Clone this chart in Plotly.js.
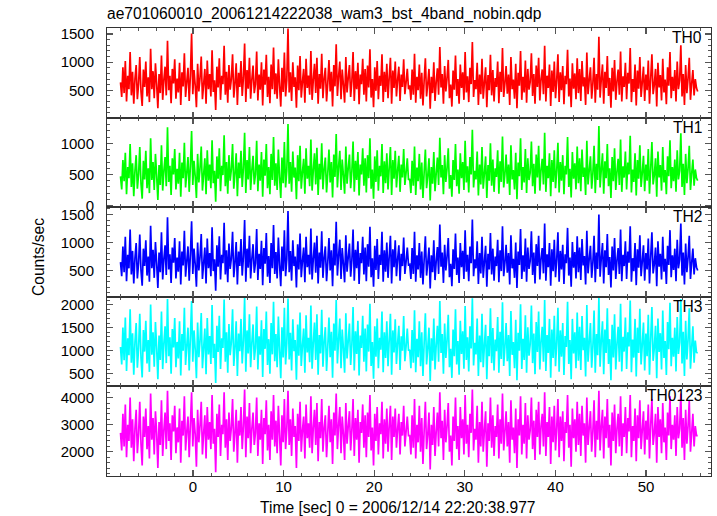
<!DOCTYPE html>
<html>
<head>
<meta charset="utf-8">
<script src="https://cdn.plot.ly/plotly-3.0.1.min.js"></script>
<style>html,body{margin:0;padding:0;background:#fff;}#chart{width:717px;height:516px;}</style>
</head>
<body>
<div id="chart"></div>
<script>
// ---- data ----
const chartTitle = "ae701060010_20061214222038_wam3_bst_4band_nobin.qdp";
const panelLabels = ["TH0", "TH1", "TH2", "TH3", "TH0123"];
const tStart = -8.0;     // first bin time [sec]
const binSec = 0.13299;  // bin width [sec]

const th0 = [
640,380,910,450,1020,300,760,520,1180,410,830,260,700,950,340,610,1090,480,220,870,
560,1010,390,730,290,1240,520,840,360,980,610,180,790,450,1120,330,690,920,410,1380,
500,760,270,880,620,1050,350,710,460,990,240,820,570,1160,380,650,900,310,760,1510,
430,860,590,200,970,480,720,1100,340,610,880,260,1030,520,790,390,1210,470,680,150,
920,550,1070,330,760,610,1290,420,830,280,950,510,700,1140,370,620,980,240,810,560,
1020,400,720,1330,290,860,530,1080,350,690,940,450,610,1190,320,780,510,1000,230,870,
600,1130,380,740,270,960,520,1260,430,800,350,1050,580,210,900,470,1170,390,680,1600,
460,820,310,1000,560,730,190,940,500,1110,370,650,880,280,1060,540,760,420,1200,330,
690,970,450,1080,260,790,530,1150,360,710,900,300,620,1040,480,830,210,950,570,1320,
400,750,1010,340,870,590,280,1090,460,720,950,380,660,1180,310,840,520,990,250,780,
610,1060,420,880,300,940,550,1230,370,700,200,910,490,1020,340,760,580,1140,290,830,
470,970,360,730,1080,260,850,540,1010,390,690,920,310,780,560,1050,430,640,880,520,
590,330,870,420,1150,280,740,500,960,350,810,230,680,1070,390,620,880,170,740,450,
1000,310,650,890,420,1270,550,790,260,930,480,720,1040,360,600,210,850,510,1120,400,
700,260,960,540,820,330,1180,460,750,290,900,610,1360,380,680,520,990,240,780,430,
1060,350,640,910,200,770,500,1130,410,860,300,720,560,1010,270,830,470,1250,380,620,
930,440,780,240,1090,520,690,350,970,180,810,580,1200,330,740,460,1030,280,880,510,
650,1160,400,790,260,940,560,1080,320,700,870,430,1290,300,760,540,960,220,850,470,
1010,360,680,1140,290,820,500,930,250,760,610,1220,390,710,200,980,530,800,340,1070,
450,880,310,1020,570,730,240,1170,430,690,910,350,620,1080,280,790,510,1450,370,700,
960,260,830,540,1110,400,720,190,900,480,1040,330,660,870,420,1190,300,750,560,990,
340,810,620,1250,290,700,470,960,230,850,530,1090,380,640,920,310,780,500,1030,260,
720,1140,430,600,880,210,990,550,770,320,1060,460,690,250,910,580,1180,360,740,490,
860,300,1010,520,680,1300,390,790,240,950,450,710,1080,330,620,860,410,700,540,480];

const th1 = [
470,260,730,390,850,180,620,440,990,300,680,150,560,810,270,500,940,350,110,720,
420,880,280,600,200,1080,410,700,250,830,480,90,650,330,970,240,560,780,310,1260,
380,640,170,760,500,910,260,590,350,850,140,690,440,1010,290,530,780,220,640,1200,
330,720,470,120,830,370,600,950,240,500,760,180,890,400,660,280,1050,360,560,60,
790,430,920,230,640,490,1130,310,700,190,810,400,580,990,270,510,840,150,690,440,
880,300,600,1170,200,730,420,940,250,570,800,340,500,1040,230,660,400,860,140,740,
480,990,280,620,180,830,410,1100,320,680,250,900,460,120,770,360,1020,290,560,1310,
350,700,220,870,450,610,100,810,390,960,270,540,750,190,920,430,640,310,1060,240,
570,840,340,930,170,670,420,1000,260,590,770,210,510,900,370,700,130,820,460,1150,
290,630,880,250,740,480,190,950,350,600,820,280,550,1030,220,720,410,860,160,660,
500,920,320,760,210,810,440,1080,270,580,110,790,380,890,240,640,470,990,200,710,
360,840,260,610,940,170,730,430,880,290,570,800,220,660,450,910,330,530,760,410,
430,200,720,320,950,170,610,390,830,260,690,120,540,900,280,480,760,80,620,350,
860,230,520,770,330,1090,450,650,180,810,380,600,920,270,490,140,730,410,990,310,
580,190,840,440,700,250,1040,370,630,210,780,500,1220,290,560,420,870,160,660,340,
940,270,520,790,120,650,400,1000,320,740,220,600,460,890,190,710,380,1110,290,500,
820,350,660,170,970,420,570,260,850,100,690,470,1080,250,620,370,910,200,760,410,
530,1030,310,670,190,820,450,960,240,580,750,340,1170,220,640,440,840,150,730,380,
890,280,560,1010,210,700,400,810,180,640,500,1100,300,590,130,860,430,680,260,950,
360,760,230,900,460,610,170,1040,340,570,790,270,510,960,200,670,410,1280,290,580,
840,190,710,440,990,310,600,120,780,390,920,250,540,750,330,1060,220,630,450,870,
260,690,500,1120,210,580,380,840,160,730,430,970,300,520,800,230,660,400,910,190,
600,1020,340,490,760,140,870,450,650,240,940,370,570,180,790,470,1050,280,620,390,
740,220,890,420,560,1160,300,670,170,830,360,590,960,250,510,740,320,580,440,400];

const th2 = [
650,400,930,470,1100,310,780,540,1230,430,850,270,720,990,360,630,1140,500,230,890,
580,1040,410,750,300,1300,540,870,370,1010,630,190,820,470,1180,340,710,950,420,1450,
520,790,280,910,640,1080,360,730,480,1020,250,840,590,1210,390,670,930,320,780,1380,
440,890,610,210,1000,500,740,1150,350,630,910,270,1070,540,810,400,1270,490,700,140,
950,570,1110,340,780,630,1350,430,860,290,980,530,720,1190,380,640,1010,250,840,580,
1060,410,740,1400,300,890,550,1120,360,710,970,460,630,1240,330,800,530,1030,240,900,
620,1170,390,760,280,990,540,1310,440,830,360,1090,600,220,930,490,1220,400,700,1560,
470,850,320,1040,580,750,200,970,520,1160,380,670,910,290,1100,560,780,430,1250,340,
710,1000,460,1120,270,820,550,1200,370,730,930,310,640,1080,500,860,220,980,590,1370,
410,770,1050,350,900,610,290,1130,480,740,980,390,680,1230,320,870,540,1020,260,810,
630,1100,430,910,310,970,570,1280,380,720,210,940,510,1060,350,780,600,1190,300,860,
480,1000,370,750,1120,270,880,560,1040,400,710,950,320,800,580,1090,440,660,910,600,
610,350,900,440,1190,300,770,520,990,370,840,250,700,1110,410,640,910,180,770,470,
1040,330,670,920,440,1320,570,820,280,960,500,750,1080,380,620,220,880,530,1160,420,
730,280,990,560,850,350,1220,480,780,310,930,630,1410,400,700,540,1020,260,810,450,
1100,370,660,940,210,800,520,1170,430,890,320,750,580,1050,290,860,490,1290,400,640,
960,460,810,250,1130,540,710,370,1000,190,840,600,1240,350,770,480,1070,300,910,530,
670,1200,420,820,270,970,580,1120,340,720,900,450,1340,320,790,560,990,230,880,490,
1050,380,700,1180,300,850,520,960,260,790,630,1260,410,730,210,1010,550,830,360,1110,
470,910,330,1060,590,760,250,1210,450,710,940,370,640,1120,290,820,530,1500,390,720,
990,270,860,560,1150,420,740,200,930,500,1080,350,680,900,440,1230,310,780,580,1020,
350,840,640,1290,300,720,490,990,240,880,550,1130,400,660,950,320,810,520,1070,270,
750,1180,450,620,910,220,1020,570,800,340,1100,480,710,260,940,600,1220,380,770,510,
890,310,1050,540,700,1340,410,820,250,980,470,730,1120,350,640,890,430,720,560,500];

const th3 = [
1080,700,1500,790,1720,560,1270,900,1900,740,1380,480,1180,1600,630,1050,1800,850,420,1450,
980,1650,720,1230,540,2000,910,1400,650,1620,1060,380,1330,800,1850,600,1160,1530,730,2120,
880,1290,500,1470,1070,1710,640,1190,830,1640,460,1360,1000,1930,690,1100,1500,570,1280,2080,
760,1440,1030,400,1610,860,1210,1820,620,1060,1480,490,1710,920,1320,710,1990,840,1150,300,
1540,970,1760,600,1270,1060,2110,760,1400,520,1580,900,1190,1900,670,1070,1640,450,1370,990,
1690,720,1220,2150,540,1440,940,1790,640,1170,1570,800,1060,1960,590,1310,910,1660,430,1470,
1040,1850,690,1250,500,1600,920,2060,770,1360,640,1740,1010,400,1510,850,1930,700,1160,2130,
810,1390,570,1680,990,1230,370,1570,890,1830,670,1110,1480,520,1770,960,1280,750,1980,610,
1170,1610,800,1790,480,1340,940,1890,650,1200,1510,560,1080,1720,860,1410,410,1590,1000,2100,
720,1260,1700,620,1460,1040,520,1810,830,1210,1590,690,1130,1950,570,1420,930,1650,460,1330,
1060,1760,760,1480,550,1570,980,2020,670,1190,390,1530,870,1700,620,1280,1020,1850,530,1400,
840,1640,660,1230,1800,480,1440,960,1680,710,1170,1540,580,1310,1000,1750,770,1100,1480,1000,
1020,620,1450,740,1880,530,1260,860,1640,660,1400,450,1170,1810,700,1060,1500,340,1270,780,
1700,590,1130,1540,760,2080,950,1360,500,1590,840,1230,1780,640,1040,410,1460,880,1900,700,
1210,480,1650,930,1420,610,1970,800,1290,550,1530,1050,2140,680,1170,920,1700,450,1330,750,
1800,640,1120,1560,380,1320,880,1920,730,1490,570,1240,990,1730,520,1410,820,2050,670,1080,
1600,770,1340,450,1860,910,1190,620,1670,360,1390,1000,2010,600,1260,800,1770,520,1510,890,
1140,1980,730,1370,490,1620,970,1850,590,1210,1520,760,2100,560,1340,950,1690,410,1460,840,
1760,660,1180,1930,540,1440,870,1600,470,1320,1080,2060,710,1230,380,1690,940,1400,620,1830,
780,1520,580,1750,1010,1280,440,1990,760,1190,1600,630,1080,1870,520,1360,900,2150,650,1220,
1640,490,1460,950,1920,710,1250,360,1560,850,1790,590,1150,1520,760,2020,550,1300,980,1720,
600,1400,1090,2090,530,1240,850,1690,440,1500,950,1910,700,1130,1610,570,1370,880,1780,480,
1270,1950,780,1060,1540,400,1700,970,1380,590,1870,840,1210,470,1620,1030,2040,660,1280,870,
1500,550,1730,930,1180,2120,720,1410,450,1650,810,1230,1920,610,1070,1530,740,1220,960,950];

const th0123 = [
2700,2050,3400,2200,3750,1800,3000,2400,4000,2150,3200,1650,2850,3550,1950,2650,3850,2300,1500,3300,
2550,3600,2100,2950,1750,4150,2450,3250,1900,3500,2700,1400,3100,2250,3900,1850,2800,3450,2100,4250,
2400,3050,1700,3350,2750,3700,1950,2900,2350,3600,1600,3150,2600,4050,2050,2750,3300,1800,3000,4200,
2200,3250,2650,1450,3550,2350,2950,3850,1900,2700,3350,1750,3650,2450,3100,2100,4100,2300,2850,1250,
3400,2550,3750,1850,3000,2650,4200,2150,3200,1700,3450,2400,2900,3950,2000,2700,3550,1600,3150,2600,
3650,2100,2950,4300,1800,3300,2500,3800,1950,2850,3450,2250,2700,4000,1850,3050,2450,3550,1550,3250,
2650,3900,2050,3000,1700,3500,2450,4100,2200,3150,1950,3700,2600,1500,3350,2350,3950,2100,2850,4250,
2250,3200,1850,3600,2550,2950,1400,3400,2400,3850,2000,2800,3300,1750,3750,2500,3050,2150,4050,1950,
2900,3550,2250,3800,1650,3100,2500,3950,2000,2900,3350,1800,2700,3700,2350,3200,1550,3450,2600,4150,
2100,3000,3650,1950,3300,2650,1700,3800,2300,2950,3500,2050,2800,3950,1850,3250,2450,3550,1600,3100,
2700,3750,2150,3350,1800,3450,2550,4100,2050,2900,1500,3400,2400,3650,1900,3050,2650,3850,1750,3200,
2300,3600,2000,2950,3700,1700,3300,2550,3600,2150,2850,3400,1900,3100,2600,3700,2200,2750,3300,2600,
2600,1900,3350,2150,3950,1750,3000,2350,3700,2000,3250,1550,2800,3850,2100,2650,3450,1350,3000,2250,
3650,1850,2750,3450,2200,4200,2500,3150,1700,3550,2350,2950,3800,2000,2600,1500,3300,2400,4000,2100,
2950,1700,3650,2500,3200,1900,4100,2300,3000,1800,3400,2700,4300,2050,2850,2450,3700,1600,3100,2200,
3850,2000,2800,3500,1450,3050,2400,4000,2150,3350,1850,2950,2550,3750,1750,3200,2300,4150,2050,2750,
3500,2200,3100,1600,3900,2450,2900,1950,3600,1400,3200,2600,4050,1900,3000,2300,3800,1750,3350,2450,
2800,4000,2100,3150,1700,3550,2550,3850,1900,2950,3400,2200,4200,1850,3100,2550,3650,1550,3300,2350,
3700,2050,2900,3950,1800,3300,2400,3500,1650,3100,2700,4100,2150,3000,1450,3600,2500,3200,2000,3850,
2250,3400,1850,3700,2600,3050,1600,4000,2250,2900,3500,2000,2750,3900,1800,3150,2450,4250,2050,2950,
3550,1750,3300,2500,3950,2150,3000,1500,3450,2400,3750,1950,2850,3400,2200,4050,1850,3050,2550,3650,
1950,3250,2750,4100,1800,2950,2400,3600,1650,3350,2500,3900,2100,2800,3500,1900,3150,2450,3750,1750,
3000,3950,2250,2700,3400,1600,3650,2550,3200,1950,3800,2350,2900,1700,3450,2600,4050,2100,3000,2450,
3350,1850,3650,2500,2850,4150,2150,3250,1700,3550,2300,2950,3900,2000,2700,3400,2200,2950,2600,2600];

const seriesList = [th0, th1, th2, th3, th0123];
const colors = ["#ff0000", "#00ff00", "#0000ff", "#00ffff", "#ff00ff"];
const yRanges = [[14, 1608], [-27, 1414], [32, 1629], [224, 2170], [1107, 4415]];
const yMajor = [500, 500, 500, 500, 1000];
const yMinor = [100, 100, 100, 100, 200];

// ---- build figure ----
const FONT = "Liberation Sans, Arial, Helvetica, sans-serif";
const TFS = 15.6;
const xRange = [-9.49, 57.17];
const traces = [];
const layout = {
  width: 717, height: 516,
  margin: {l: 107, r: 6, t: 28, b: 40, pad: 0},
  paper_bgcolor: "#ffffff", plot_bgcolor: "#ffffff",
  showlegend: false,
  font: {family: FONT, size: 15, color: "#000"},
  annotations: []
};

const n = seriesList.length;
seriesList.forEach((vals, i) => {
  const k = n - i;            // axis index: TH0 on top (k=5), TH0123 at bottom (k=1)
  const xa = k === 1 ? "x" : "x" + k;
  const ya = k === 1 ? "y" : "y" + k;
  const times = vals.map((_, j) => tStart + j * binSec);
  traces.push({
    type: "scatter", mode: "lines", x: times, y: vals,
    xaxis: xa, yaxis: ya,
    line: {color: colors[i], width: 1.7, simplify: false},
    hoverinfo: "skip"
  });
  const d0 = (k - 1) / n, d1 = k / n;
  const axisStyle = {
    showline: true, linecolor: "#333", linewidth: 1, mirror: "allticks",
    ticks: "inside", ticklen: 6, tickwidth: 1.2, tickcolor: "#555",
    showgrid: false, zeroline: false,
    tickfont: {family: FONT, size: 15, color: "#000"}
  };
  layout["xaxis" + (k === 1 ? "" : k)] = Object.assign({}, axisStyle, {
    anchor: ya, domain: [0, 1], range: xRange, dtick: 10, tick0: 0,
    showticklabels: k === 1, ticklabelstandoff: -3,
    minor: {ticks: "inside", dtick: 2, ticklen: 3, tickcolor: "#555", tickwidth: 1},
    matches: k === 1 ? undefined : "x"
  });
  layout["yaxis" + (k === 1 ? "" : k)] = Object.assign({}, axisStyle, {
    anchor: xa, domain: [d0, d1], range: yRanges[i], dtick: yMajor[i], tick0: 0,
    ticklabelstandoff: 9,
    minor: {ticks: "inside", dtick: yMinor[i], ticklen: 3, tickcolor: "#555", tickwidth: 1}
  });
  layout.annotations.push({
    text: panelLabels[i], showarrow: false,
    xref: "paper", x: 0.988, xanchor: "right",
    yref: ya + " domain", y: 1, yanchor: "top", yshift: 1,
    font: {family: FONT, size: TFS, color: "#000"}
  });
});

layout.annotations.push({
  text: chartTitle, showarrow: false,
  xref: "paper", x: 0, xanchor: "left", xshift: -2,
  yref: "paper", y: 1 + (28 - 14.5) / 448, yanchor: "middle",
  font: {family: FONT, size: TFS, color: "#000"}
});
layout.annotations.push({
  text: "Counts/sec", showarrow: false, textangle: -90,
  xref: "paper", x: (38 - 107) / 604, xanchor: "center",
  yref: "paper", y: (476 - 257) / 448, yanchor: "middle",
  font: {family: FONT, size: TFS, color: "#000"}
});
layout.annotations.push({
  text: "Time [sec] 0 = 2006/12/14 22:20:38.977", showarrow: false,
  xref: "paper", x: (398 - 107) / 604, xanchor: "center",
  yref: "paper", y: -(507 - 476) / 448, yanchor: "middle",
  font: {family: FONT, size: TFS, color: "#000"}
});

Plotly.newPlot("chart", traces, layout, {staticPlot: true, displayModeBar: false});
</script>
</body>
</html>
